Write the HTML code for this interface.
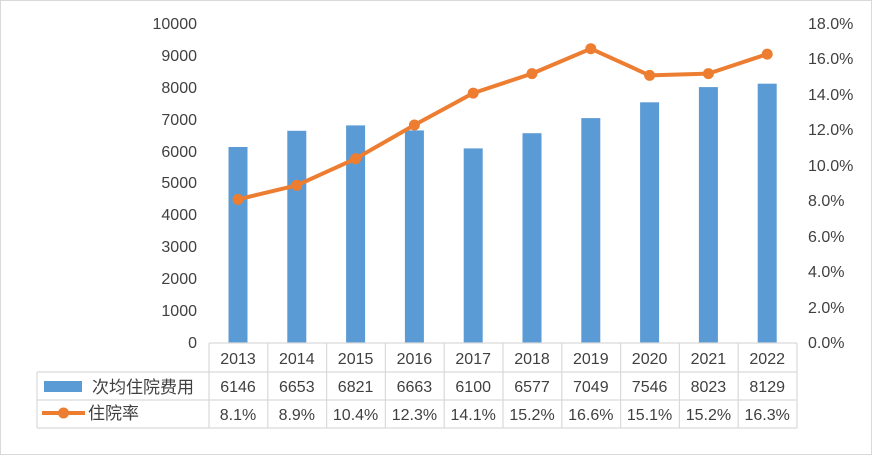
<!DOCTYPE html>
<html><head><meta charset="utf-8"><style>
html,body{margin:0;padding:0;background:#fff;}
svg text{font-family:"Liberation Sans","Noto Sans CJK SC",sans-serif;fill:#404040;font-size:16px;}
</style></head><body>
<svg width="872" height="455" viewBox="0 0 872 455" xmlns="http://www.w3.org/2000/svg">
<rect x="0.5" y="0.5" width="871" height="454" fill="#fff" stroke="#d9d9d9"/>
<g text-anchor="end">
<text x="197" y="29">10000</text><text x="197" y="61">9000</text><text x="197" y="93">8000</text>
<text x="197" y="125">7000</text><text x="197" y="157">6000</text><text x="197" y="188">5000</text>
<text x="197" y="220">4000</text><text x="197" y="252">3000</text><text x="197" y="284">2000</text>
<text x="197" y="316">1000</text><text x="197" y="348">0</text>
</g>
<g text-anchor="start">
<text x="808" y="29">18.0%</text><text x="808" y="64">16.0%</text><text x="808" y="100">14.0%</text>
<text x="808" y="135">12.0%</text><text x="808" y="171">10.0%</text><text x="808" y="206">8.0%</text>
<text x="808" y="242">6.0%</text><text x="808" y="277">4.0%</text><text x="808" y="313">2.0%</text>
<text x="808" y="348">0.0%</text>
</g>
<g fill="#5b9bd5">
<rect x="228.5" y="147" width="19" height="196"/>
<rect x="287.3" y="130.8" width="19" height="212.2"/>
<rect x="346.1" y="125.4" width="19" height="217.6"/>
<rect x="404.9" y="130.4" width="19" height="212.6"/>
<rect x="463.7" y="148.4" width="19" height="194.6"/>
<rect x="522.5" y="133.2" width="19" height="209.8"/>
<rect x="581.3" y="118.1" width="19" height="224.9"/>
<rect x="640.1" y="102.3" width="19" height="240.7"/>
<rect x="698.9" y="87.1" width="19" height="255.9"/>
<rect x="757.7" y="83.7" width="19" height="259.3"/>
</g>
<g stroke="#d9d9d9" stroke-width="1.2" fill="none">
<line x1="209" y1="343" x2="797" y2="343"/>
<line x1="37" y1="372" x2="797" y2="372"/>
<line x1="37" y1="400" x2="797" y2="400"/>
<line x1="37" y1="428" x2="797" y2="428"/>
<line x1="37" y1="372" x2="37" y2="428"/>
<line x1="209" y1="343" x2="209" y2="428"/>
<line x1="267.8" y1="343" x2="267.8" y2="428"/><line x1="326.6" y1="343" x2="326.6" y2="428"/>
<line x1="385.4" y1="343" x2="385.4" y2="428"/><line x1="444.2" y1="343" x2="444.2" y2="428"/>
<line x1="503" y1="343" x2="503" y2="428"/><line x1="561.8" y1="343" x2="561.8" y2="428"/>
<line x1="620.6" y1="343" x2="620.6" y2="428"/><line x1="679.4" y1="343" x2="679.4" y2="428"/>
<line x1="738.2" y1="343" x2="738.2" y2="428"/><line x1="797" y1="343" x2="797" y2="428"/>
</g>
<polyline fill="none" stroke="#ed7d31" stroke-width="4" stroke-linejoin="round" points="238,199.4 296.8,185.3 355.6,158.7 414.4,125 473.2,93.1 532,73.6 590.8,48.7 649.6,75.4 708.4,73.6 767.2,54.1"/>
<g fill="#ed7d31">
<circle cx="238" cy="199.4" r="5.5"/><circle cx="296.8" cy="185.3" r="5.5"/><circle cx="355.6" cy="158.7" r="5.5"/>
<circle cx="414.4" cy="125" r="5.5"/><circle cx="473.2" cy="93.1" r="5.5"/><circle cx="532" cy="73.6" r="5.5"/>
<circle cx="590.8" cy="48.7" r="5.5"/><circle cx="649.6" cy="75.4" r="5.5"/><circle cx="708.4" cy="73.6" r="5.5"/>
<circle cx="767.2" cy="54.1" r="5.5"/>
</g>
<g text-anchor="middle">
<text x="238" y="364">2013</text><text x="296.8" y="364">2014</text><text x="355.6" y="364">2015</text>
<text x="414.4" y="364">2016</text><text x="473.2" y="364">2017</text><text x="532" y="364">2018</text>
<text x="590.8" y="364">2019</text><text x="649.6" y="364">2020</text><text x="708.4" y="364">2021</text>
<text x="767.2" y="364">2022</text>
<text x="238" y="392">6146</text><text x="296.8" y="392">6653</text><text x="355.6" y="392">6821</text>
<text x="414.4" y="392">6663</text><text x="473.2" y="392">6100</text><text x="532" y="392">6577</text>
<text x="590.8" y="392">7049</text><text x="649.6" y="392">7546</text><text x="708.4" y="392">8023</text>
<text x="767.2" y="392">8129</text>
<text x="238" y="420">8.1%</text><text x="296.8" y="420">8.9%</text><text x="355.6" y="420">10.4%</text>
<text x="414.4" y="420">12.3%</text><text x="473.2" y="420">14.1%</text><text x="532" y="420">15.2%</text>
<text x="590.8" y="420">16.6%</text><text x="649.6" y="420">15.1%</text><text x="708.4" y="420">15.2%</text>
<text x="767.2" y="420">16.3%</text>
</g>
<rect x="44" y="381" width="38" height="11" fill="#5b9bd5"/>
<text x="92" y="393" style="font-size:17px">次均住院费用</text>
<line x1="42" y1="413" x2="85" y2="413" stroke="#ed7d31" stroke-width="4"/>
<circle cx="63.5" cy="413" r="5.5" fill="#ed7d31"/>
<text x="88" y="419" style="font-size:17px">住院率</text>
</svg>
</body></html>
